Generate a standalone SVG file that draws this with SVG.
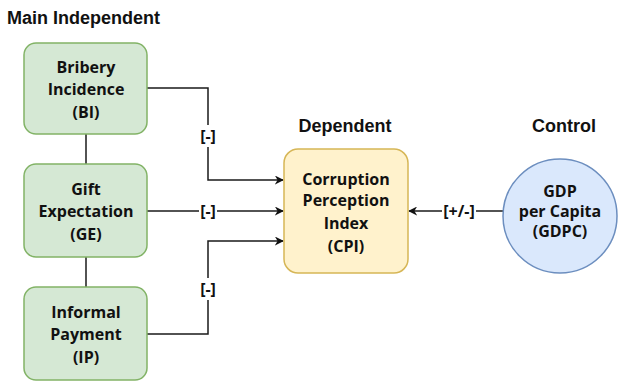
<svg xmlns="http://www.w3.org/2000/svg" width="622" height="383" viewBox="0 0 622 383">
<defs>
<style>
.t{font-family:"Open Sans","Noto Sans",sans-serif;font-weight:bold;font-size:16px;fill:#111111;text-anchor:middle}
.h{font-family:"Liberation Sans",Arial,sans-serif;font-weight:bold;font-size:18px;fill:#111111}
.g{fill:#d5e8d4;stroke:#82b366;stroke-width:1.5}
.y{fill:#fff2cc;stroke:#d6b656;stroke-width:1.5}
.b{fill:#dae8fc;stroke:#6c8ebf;stroke-width:1.5}
.c{fill:none;stroke:#1a1a1a;stroke-width:1.5}
.l{font-family:"Open Sans","Noto Sans",sans-serif;font-weight:bold;font-size:16px;fill:#111111;text-anchor:middle}
</style>
<marker id="a" viewBox="0 0 10 10" refX="9" refY="5" markerWidth="9" markerHeight="9" markerUnits="userSpaceOnUse" orient="auto"><path d="M0,0 L10,5 L0,10 L3,5 Z" fill="#111111"/></marker>
</defs>
<rect width="622" height="383" fill="#ffffff"/>
<text class="h" x="7" y="24">Main Independent</text>
<text class="h" x="345" y="132" text-anchor="middle">Dependent</text>
<text class="h" x="564" y="132" text-anchor="middle">Control</text>
<g id="connectors">
<line class="c" x1="86" y1="134" x2="86" y2="164"/>
<line class="c" x1="86" y1="257" x2="86" y2="287"/>
<polyline class="c" points="147,88 208,88 208,180 283,180" marker-end="url(#a)"/>
<line class="c" x1="147" y1="211" x2="283" y2="211" marker-end="url(#a)"/>
<polyline class="c" points="147,334 208,334 208,241 283,241" marker-end="url(#a)"/>
<line class="c" x1="503" y1="211" x2="409" y2="211" marker-end="url(#a)"/>
<rect x="199" y="125" width="18" height="22" fill="#ffffff"/>
<text class="l" x="208" y="142">[-]</text>
<rect x="199" y="200" width="18" height="22" fill="#ffffff"/>
<text class="l" x="208" y="217">[-]</text>
<rect x="199" y="278" width="18" height="22" fill="#ffffff"/>
<text class="l" x="208" y="295">[-]</text>
<rect x="442" y="200" width="34" height="22" fill="#ffffff"/>
<text class="l" x="459" y="217">[+/-]</text>
</g>
<g id="BI">
<rect class="g" x="24" y="43" width="123" height="91" rx="12"/>
<text class="t" x="86" y="73">Bribery</text>
<text class="t" x="86" y="95">Incidence</text>
<text class="t" x="86" y="118">(BI)</text>
</g>
<g id="GE">
<rect class="g" x="24" y="164" width="123" height="93" rx="12"/>
<text class="t" x="86" y="195">Gift</text>
<text class="t" x="86" y="217">Expectation</text>
<text class="t" x="86" y="240">(GE)</text>
</g>
<g id="IP">
<rect class="g" x="24" y="287" width="123" height="93" rx="12"/>
<text class="t" x="86" y="318">Informal</text>
<text class="t" x="86" y="340">Payment</text>
<text class="t" x="86" y="363">(IP)</text>
</g>
<g id="CPI">
<rect class="y" x="284" y="149" width="124" height="124" rx="14"/>
<text class="t" x="346" y="185">Corruption</text>
<text class="t" x="346" y="206">Perception</text>
<text class="t" x="346" y="229">Index</text>
<text class="t" x="346" y="252">(CPI)</text>
</g>
<g id="GDPC">
<circle class="b" cx="560" cy="216" r="57"/>
<text class="t" x="560" y="197">GDP</text>
<text class="t" x="560" y="217">per Capita</text>
<text class="t" x="560" y="237">(GDPC)</text>
</g>
</svg>
